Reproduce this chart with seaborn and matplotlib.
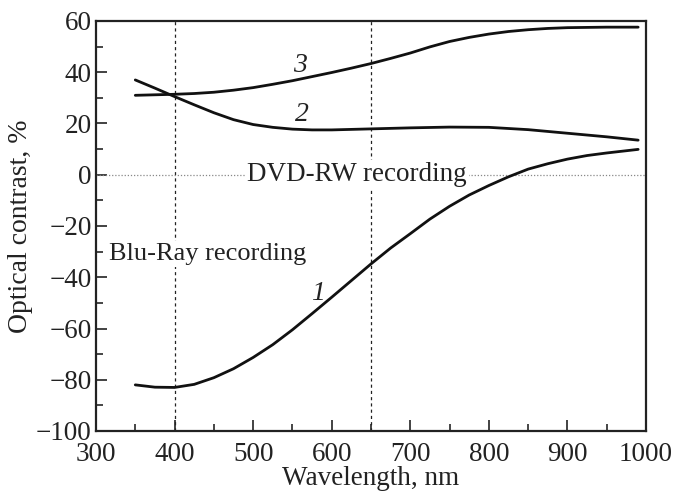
import numpy as np
import pandas as pd
import matplotlib
matplotlib.use("Agg")
import matplotlib.pyplot as plt
import seaborn as sns
from matplotlib.ticker import MultipleLocator

# Data
wl1 = [350, 375, 400, 425, 450, 475, 500, 525, 550, 575, 600, 625, 650, 675, 700,
       725, 750, 775, 800, 825, 850, 875, 900, 925, 950, 970, 990]
c1 = [-82.0, -82.9, -83.0, -81.8, -79.2, -75.7, -71.3, -66.3, -60.5, -54.2, -47.8,
      -41.3, -34.8, -28.6, -23.0, -17.3, -12.3, -7.9, -4.2, -0.8, 2.2, 4.3, 6.1,
      7.5, 8.5, 9.2, 9.9]
wl2 = [350, 375, 400, 425, 450, 475, 500, 525, 550, 575, 600, 625, 650, 700, 750,
       800, 850, 900, 950, 990]
c2 = [37.0, 33.8, 30.5, 27.3, 24.2, 21.5, 19.6, 18.5, 17.8, 17.5, 17.5, 17.7, 17.9,
      18.3, 18.6, 18.5, 17.6, 16.2, 14.8, 13.5]
wl3 = [350, 375, 400, 425, 450, 475, 500, 525, 550, 575, 600, 625, 650, 675, 700,
       725, 750, 775, 800, 825, 850, 875, 900, 950, 990]
c3 = [31.0, 31.2, 31.4, 31.7, 32.2, 33.0, 34.0, 35.3, 36.7, 38.3, 39.9, 41.6, 43.4,
      45.4, 47.5, 49.9, 52.0, 53.6, 54.9, 55.9, 56.6, 57.1, 57.4, 57.6, 57.6]
curve_names = ["1", "2", "3"]
marker_wl = [400, 650]
xticks = [300, 400, 500, 600, 700, 800, 900, 1000]
yticks = [-100, -80, -60, -40, -20, 0, 20, 40, 60]

df = pd.concat([
    pd.DataFrame({"wl": wl1, "val": c1, "curve": curve_names[0]}),
    pd.DataFrame({"wl": wl2, "val": c2, "curve": curve_names[1]}),
    pd.DataFrame({"wl": wl3, "val": c3, "curve": curve_names[2]}),
])

sns.set_style("ticks")
plt.rcParams["font.family"] = ["Liberation Serif", "DejaVu Serif"]

fig = plt.figure(figsize=(6.78, 4.96), dpi=100)
ax = fig.add_axes([96 / 678, 65 / 496, 550 / 678, 410 / 496])

sns.lineplot(data=df, x="wl", y="val", units="curve", estimator=None,
             color="#111111", linewidth=2.0, ax=ax, sort=False, legend=False)

ax.set_xlim(300, 1000)
ax.set_ylim(-100, 60)

for w in marker_wl:
    ax.axvline(w, color="#222222", linestyle=(0, (2.5, 2.5)), linewidth=0.9, zorder=1)
ax.axhline(0, color="#888888", linestyle=(0, (1, 1.5)), linewidth=0.9, zorder=1)

ax.set_xticks(xticks)
ax.set_yticks(yticks)
ax.xaxis.set_minor_locator(MultipleLocator(50))
ax.yaxis.set_minor_locator(MultipleLocator(10))
ax.tick_params(which="major", direction="in", length=8, width=1.2, labelsize=19.5,
               colors="#222222", top=False, right=False)
ax.tick_params(axis="x", which="major", pad=8)
ax.tick_params(axis="y", which="major", pad=3)
ax.tick_params(which="minor", direction="in", length=5, width=1.2, top=False, right=False)
for s in ax.spines.values():
    s.set_linewidth(1.6)
    s.set_color("#222222")

ax.set_xlabel("Wavelength, nm", fontsize=19.5, color="#222222", labelpad=-1)
ax.set_ylabel("Optical contrast, %", fontsize=20, color="#222222", labelpad=2)

bbox = dict(facecolor="white", edgecolor="none", pad=1.5)
ax.text(632, 0, "DVD-RW recording", fontsize=19.5, ha="center", va="center",
        color="#222222", bbox=bbox, zorder=3)
ax.text(317, -31, "Blu-Ray recording", fontsize=19, ha="left", va="center",
        color="#222222", bbox=bbox, zorder=3)
ax.text(560, 42.5, "3", fontsize=20, style="italic", ha="center", va="center", color="#222222")
ax.text(562, 23.5, "2", fontsize=20, style="italic", ha="center", va="center", color="#222222")
ax.text(582, -46.5, "1", fontsize=20, style="italic", ha="center", va="center", color="#222222")

fig.savefig("out.png", dpi=100)
